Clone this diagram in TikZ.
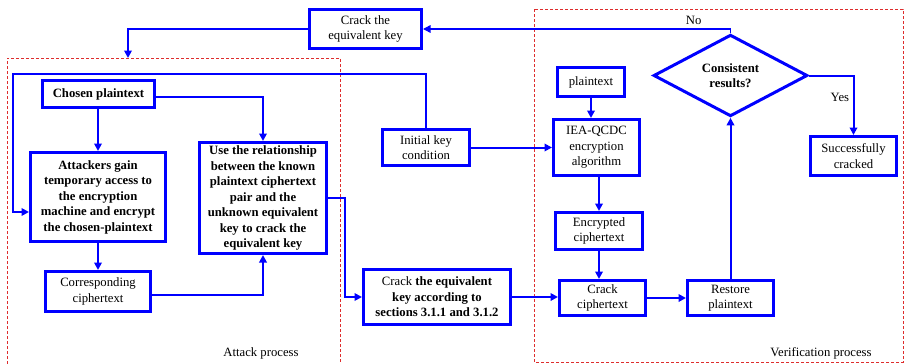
\documentclass[tikz,border=0pt]{standalone}
\usepackage{fontspec}
\setmainfont{Liberation Serif}
\usetikzlibrary{arrows.meta, shapes.geometric}
\definecolor{flowblue}{RGB}{0,0,255}
\definecolor{zonered}{RGB}{222,45,45}
\tikzstyle{block} = [draw=flowblue, line width=3pt, rectangle, align=center, inner sep=1pt, font=\fontsize{12.7}{15.5}\selectfont]
\tikzstyle{strong} = [block, font=\fontsize{12.7}{15.5}\selectfont\bfseries]
\tikzstyle{decision} = [strong, diamond, inner sep=0pt]
\tikzstyle{label} = [font=\fontsize{12.7}{15.5}\selectfont]
\tikzstyle{link} = [draw=flowblue, line width=2pt, -{Triangle[length=7.5pt, width=7.5pt]}]
\tikzstyle{zone} = [draw=zonered, line width=1pt, dash pattern=on 3pt off 2pt]

\begin{document}
\begin{tikzpicture}[x=1pt, y=-1pt]
    \useasboundingbox (0,0) rectangle (906,364);

    % Zones.
    \draw [zone] (7,364) |- (340,58) -- (340,364);
    \draw [zone] (534,9) rectangle (903,362);
    \node (attacklabel) [label] at (261,353) {Attack process};
    \node (verifylabel) [label] at (821,353) {Verification process};

    % Attack side.
    \node (crackkey) [block, minimum width=112, minimum height=39] at (365.5,29) {Crack the\\equivalent key};
    \node (chosen) [strong, minimum width=112, minimum height=27] at (98.5,94) {Chosen plaintext};
    \node (attackers) [strong, minimum width=135, minimum height=89] at (98,197)
        {Attackers gain\\temporary access to\\the encryption\\machine and encrypt\\the chosen-plaintext};
    \node (corresp) [block, minimum width=105, minimum height=40] at (98,291.5) {Corresponding\\ciphertext};
    \node (relation) [strong, minimum width=127, minimum height=111] at (263,198)
        {Use the relationship\\between the known\\plaintext ciphertext\\pair and the\\unknown equivalent\\key to crack the\\equivalent key};
    \node (initial) [block, minimum width=87, minimum height=36] at (426,147.5) {Initial key\\condition};
    \node (crackeq) [block, minimum width=147, minimum height=55] at (437,297)
        {Crack \textbf{the equivalent}\\\textbf{key according to}\\\textbf{sections 3.1.1 and 3.1.2}};

    % Verification side.
    \node (plain) [block, minimum width=67, minimum height=29] at (591,82) {plaintext};
    \node (iea) [block, minimum width=86, minimum height=56] at (596.5,147.5) {IEA-QCDC\\encryption\\algorithm};
    \node (encrypted) [block, minimum width=87, minimum height=37] at (599,231) {Encrypted\\ciphertext};
    \node (crackcipher) [block, minimum width=86, minimum height=35] at (602.5,298) {Crack\\ciphertext};
    \node (restore) [block, minimum width=86, minimum height=35] at (730.5,298) {Restore\\plaintext};
    \node (check) [decision, minimum width=154, minimum height=64] at (730.5,75.5) {Consistent\\results?};
    \node (success) [block, minimum width=86, minimum height=39] at (853.5,156) {Successfully\\cracked};

    \coordinate (attacktop) at (128,58);
    \coordinate (loopleft) at (13,74);

    % Arrows.
    \draw [link, line width=1.4pt] (check.north) |- node [label, pos=0.56, above] {No} (crackkey.east);
    \draw [link] (crackkey.west) -| (attacktop);
    \draw [link] (initial.north) |- (loopleft) |- ([yshift=-15pt]attackers.west);
    \draw [link] (attackers.north |- chosen.south) -- (attackers.north);
    \draw [link] ([yshift=-3pt]chosen.east) -| (relation.north);
    \draw [link] (attackers.south) -- (corresp.north);
    \draw [link] ([yshift=-3.5pt]corresp.east) -| (relation.south);
    \draw [link] (relation.east) -- ++(17,0) |- (crackeq.west);
    \draw [link] (crackeq.east) -- (crackeq.east -| crackcipher.west);
    \draw [link] (initial.east) -- (iea.west);
    \draw [link] (plain.south) -- (plain.south |- iea.north);
    \draw [link] (encrypted.north |- iea.south) -- (encrypted.north);
    \draw [link] (encrypted.south) -- (encrypted.south |- crackcipher.north);
    \draw [link] (crackcipher.east) -- (restore.west);
    \draw [link] (restore.north) -- (check.south);
    \draw [link] (check.east) -| node [label, pos=0.68, left] {Yes} (success.north);
\end{tikzpicture}
\end{document}
